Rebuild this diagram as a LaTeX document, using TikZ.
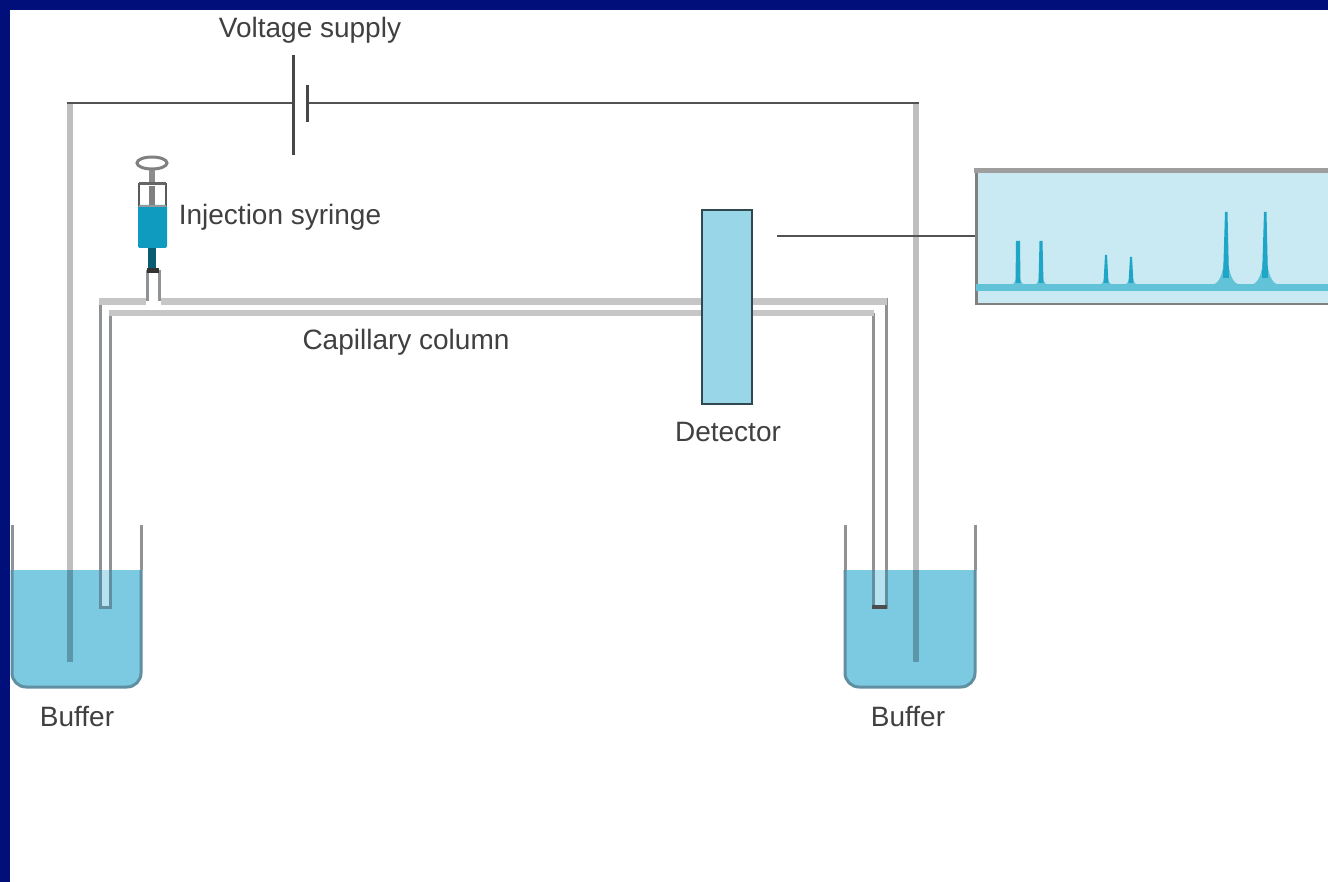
\documentclass[tikz,border=0pt]{standalone}
\usepackage{fontspec}
\setmainfont{Liberation Sans}
\definecolor{navyframe}{HTML}{000F7A}
\definecolor{edgegray}{HTML}{8F9395}
\definecolor{bandgray}{HTML}{C6C6C6}
\definecolor{liquid}{HTML}{7CCAE2}
\definecolor{detblue}{HTML}{98D6E8}
\definecolor{panel}{HTML}{C9E9F3}
\definecolor{trace}{HTML}{62C2D8}
\definecolor{peak}{HTML}{1FA5C6}
\definecolor{syr}{HTML}{0F9BBF}
\definecolor{wetedge}{HTML}{5F8FA0}
\tikzset{
  lab/.style={font=\fontsize{28}{32}\selectfont,text=black!75,inner sep=0pt},
  thinwire/.style={draw=black!68,line width=2pt},
  vwire/.style={draw=black,draw opacity=.25,line width=6pt},
  plate/.style={draw=black!72,line width=3pt},
  tube/.style={draw=edgegray,line width=3pt,line join=miter},
  beaker/.style={draw=edgegray,line width=3pt},
  wetbeaker/.style={draw=wetedge,line width=3pt},
}
\begin{document}
\begin{tikzpicture}[x=1pt,y=-1pt]
\useasboundingbox (0,0) rectangle (1328,882);
\fill[navyframe] (0,0) rectangle (1328,882);
\fill[white] (10,10) rectangle (1328,882);
% beakers: liquid
\fill[liquid] (12,570) -- (141,570) -- (141,673) arc[start angle=0,end angle=90,radius=14] -- (26,687) arc[start angle=90,end angle=180,radius=14] -- cycle;
\fill[liquid] (845,570) -- (975,570) -- (975,673) arc[start angle=0,end angle=90,radius=14] -- (859,687) arc[start angle=90,end angle=180,radius=14] -- cycle;
\draw[beaker] (12,525) -- (12,570);
\draw[beaker] (141,525) -- (141,570);
\draw[beaker] (845,525) -- (845,570);
\draw[beaker] (975,525) -- (975,570);
\draw[wetbeaker] (12,570) -- (12,673) arc[start angle=180,end angle=90,radius=14] -- (127,687) arc[start angle=90,end angle=0,radius=14] -- (141,570);
\draw[wetbeaker] (845,570) -- (845,673) arc[start angle=180,end angle=90,radius=14] -- (961,687) arc[start angle=90,end angle=0,radius=14] -- (975,570);
% supply
\coordinate (wl) at (70,662);
\coordinate (wr) at (916,662);
\coordinate (tl) at (70,103);
\coordinate (tr) at (916,103);
\coordinate (pa) at (293,103);
\coordinate (pb) at (307,103);
\draw[vwire] (wl) -- (tl);
\draw[vwire] (wr) -- (tr);
\draw[thinwire] ([xshift=-3pt]tl) -- (pa);
\draw[thinwire] (pb) -- ([xshift=3pt]tr);
\draw[plate] (293,55) -- (293,155);
\draw[plate] (307,85) -- (307,122);
% capillary
\draw[tube,fill=white] (100,607) -- (100,300) -- (147,300) -- (147,272) -- (159,272) -- (159,300) -- (886,300) -- (886,607) -- (873,607) -- (873,315) -- (110,315) -- (110,607) -- cycle;
\fill[bandgray] (99,298) rectangle (145.5,305);
\fill[bandgray] (160.5,298) rectangle (887,305);
\fill[bandgray] (109,310) rectangle (874,316);
\fill[liquid,opacity=.55] (101,570) rectangle (109,606);
\fill[liquid,opacity=.55] (874,570) rectangle (885,606);
\draw[wetedge,line width=3pt] (100,570) -- (100,607) -- (110,607) -- (110,570);
\draw[wetedge,line width=3pt] (873,570) -- (873,607);
\draw[wetedge,line width=3pt] (886,570) -- (886,607);
\draw[black!70,line width=3.5pt] (872,607) -- (887,607);
% syringe
\draw[draw=black!50,line width=3pt,fill=white] (152,163) ellipse [x radius=15,y radius=6];
\fill[black!45] (149,170) rectangle (155,184);
\fill[white] (139,184) rectangle (166,206);
\fill[black!50] (149,186) rectangle (155,206);
\fill[syr,rounded corners=2pt] (138,205) rectangle (167,248);
\draw[black!65,line width=1.6pt] (139,206) -- (139,184) -- (166,184) -- (166,206);
\draw[black!60,line width=3pt] (139,184) -- (166,184);
\draw[black!40,line width=2pt] (139,206) -- (166,206);
\fill[black!40!syr] (148,248) rectangle (156,270);
\fill[black!80] (147,268) rectangle (159,273);
% detector
\node[draw=black!50!wetedge,line width=2pt,fill=detblue,minimum width=50pt,minimum height=194pt,inner sep=0pt] (det) at (727,307) {};
% recorder
\node[draw=black!50,line width=2.5pt,fill=panel,minimum width=380pt,minimum height=133pt,inner sep=0pt,anchor=north west] (rec) at (975,170) {};
\fill[black!38] (974,168) rectangle (1328,173);
\coordinate (dout) at (777,236);
\draw[thinwire] (dout) -- (dout -| rec.west);
% labels
\node[lab] (lv) at (310,30) {Voltage supply};
\node[lab] (li) at (280,217) {Injection syringe};
\node[lab] (lc) at (406,342) {Capillary column};
\node[lab] (ld) at (728,432) {Detector};
\node[lab] (lb1) at (77,717) {Buffer};
\node[lab] (lb2) at (908,717) {Buffer};
% trace
\begin{scope}
\clip (976,171) rectangle (1328,302);
\draw[trace,line width=7.5pt] (976,287.5) -- (1328,287.5);
\fill[trace] (1010,285) .. controls (1015,285) and (1017,280) .. (1018,260) .. controls (1019,280) and (1021,285) .. (1026,285) -- cycle;
\fill[trace] (1033,285) .. controls (1038,285) and (1040,280) .. (1041,260) .. controls (1042,280) and (1044,285) .. (1049,285) -- cycle;
\fill[trace] (1098,285) .. controls (1103,285) and (1105,280) .. (1106,265) .. controls (1107,280) and (1109,285) .. (1114,285) -- cycle;
\fill[trace] (1123,285) .. controls (1128,285) and (1130,280) .. (1131,265) .. controls (1132,280) and (1134,285) .. (1139,285) -- cycle;
\fill[trace] (1211,285) .. controls (1220,284) and (1224,275) .. (1226,240) .. controls (1228,275) and (1232,284) .. (1241,285) -- cycle;
\fill[trace] (1250,285) .. controls (1259,284) and (1263,275) .. (1265,240) .. controls (1267,275) and (1271,284) .. (1280,285) -- cycle;
\fill[peak] (1015.5,283) -- (1016,241) -- (1020,241) -- (1020.5,283) -- cycle;
\fill[peak] (1038.5,283) -- (1039.5,241) -- (1042.5,241) -- (1043.5,283) -- cycle;
\fill[peak] (1103.5,283) -- (1105,255) -- (1107,255) -- (1108.5,283) -- cycle;
\fill[peak] (1128.5,283) -- (1130,257) -- (1132,257) -- (1133.5,283) -- cycle;
\fill[peak] (1223,278) -- (1225,212) -- (1227.5,212) -- (1229,278) -- cycle;
\fill[peak] (1262,278) -- (1264,212) -- (1266.5,212) -- (1268,278) -- cycle;
\end{scope}
\end{tikzpicture}
\end{document}
